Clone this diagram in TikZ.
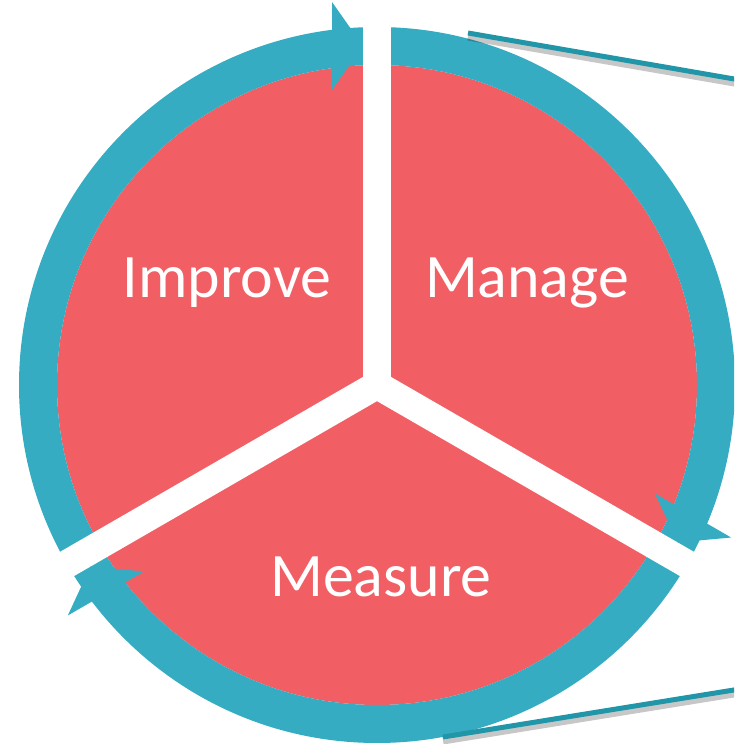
\documentclass[tikz,border=0pt]{standalone}
\usepackage{fontspec}
\setmainfont{Carlito}
\usepackage{tikz}
\usetikzlibrary{calc}

\definecolor{pieRed}{HTML}{F15F64}
\definecolor{ringTeal}{HTML}{35ACC2}
\definecolor{lineTeal}{HTML}{2196A9}

\tikzset{
    part name/.style={text=white, font=\fontsize{35.2}{42}\selectfont, anchor=base, inner sep=0pt},
    gap band/.style={white, line width=0.56cm},
    callout line/.style={draw=lineTeal, line width=0.1cm},
    callout shadow/.style={draw=black, opacity=0.22, line width=0.16cm}
}

\begin{document}
\begin{tikzpicture}[x=0.02cm, y=0.02cm]
        \useasboundingbox (0,0) rectangle (734,744);
        \clip (0,0) rectangle (734,744);
        \coordinate (c) at (377,359);
        % pie and ring
        \fill[pieRed] (c) circle (320);
        \fill[ringTeal, even odd rule] (c) circle (358) (c) circle (320);
        % gaps between the parts
        \foreach \a in {90,-30,210}
            \draw[gap band] (c) -- ++(\a:420);
        % arrow heads, tip on the edge of each gap
        \foreach \a in {90,-30,210}
            \fill[ringTeal] ($(c)+(\a:339)+(\a+90:14)$) -- ($(c)+(\a:295)+(\a+90:45)$)
                -- ($(c)+(\a:383)+(\a+90:45)$) -- cycle;
        % labels
        \node[part name] (improve) at (227,446) {Improve};
        \node[part name] (manage) at (527,446) {Manage};
        \node[part name] (measure) at (381,147) {Measure};
        % callout lines
        \coordinate (top a) at (468,711);
        \coordinate (top b) at (740,664);
        \coordinate (bot a) at (443,7);
        \coordinate (bot b) at (740,55);
        \draw[callout shadow] ([yshift=-0.07cm]top a) -- ([yshift=-0.07cm]top b);
        \draw[callout shadow] ([yshift=-0.07cm]bot a) -- ([yshift=-0.07cm]bot b);
        \draw[callout line] (top a) -- (top b);
        \draw[callout line] (bot a) -- (bot b);
\end{tikzpicture}
\end{document}
